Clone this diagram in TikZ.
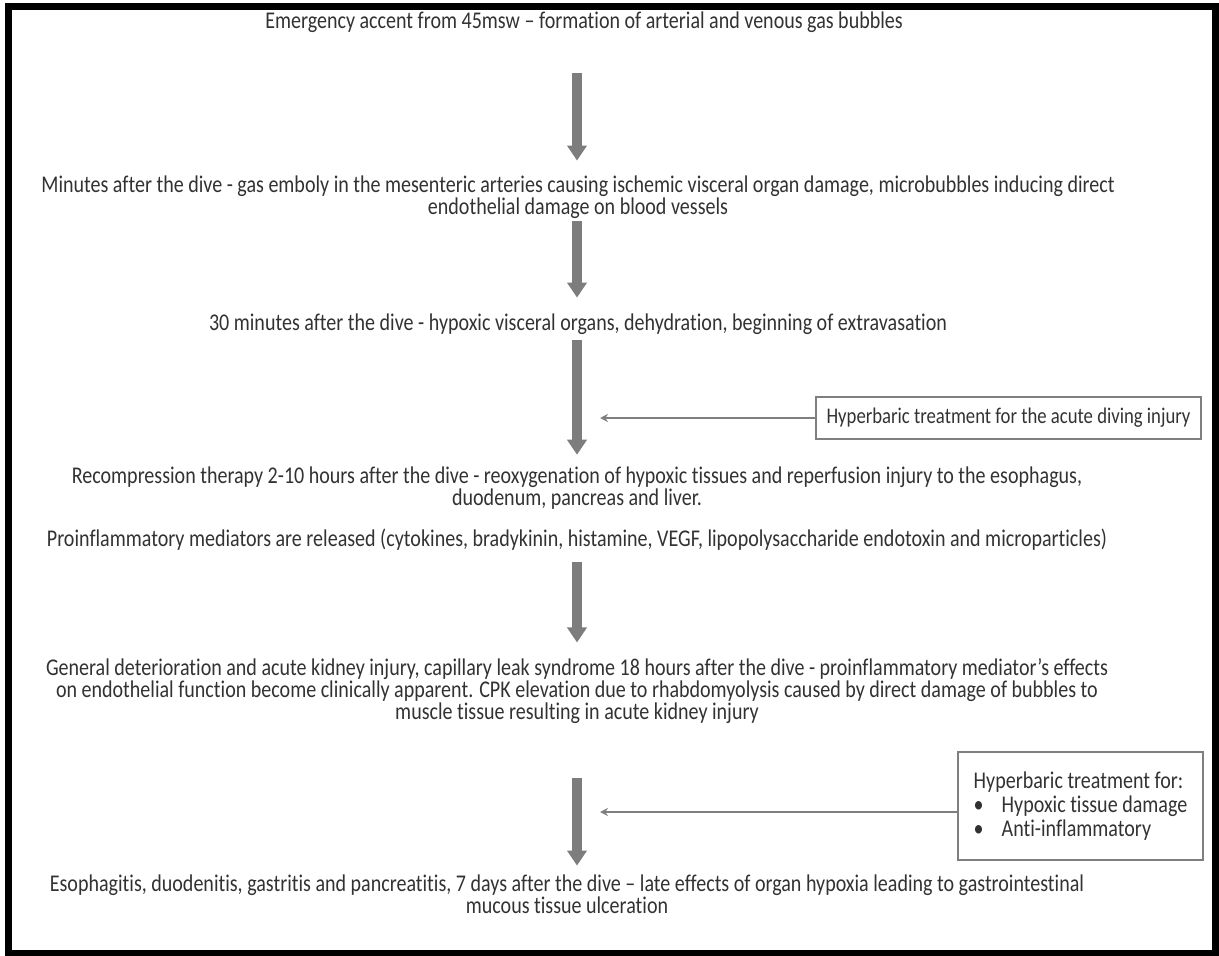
\documentclass[tikz,border=0pt]{standalone}
\usepackage{fontspec}
\setmainfont{Carlito}[FakeStretch=0.835, Ligatures=NoCommon]
\usetikzlibrary{arrows.meta,positioning}
\definecolor{textcol}{RGB}{50,50,50}
\definecolor{flowcol}{RGB}{125,125,125}
\definecolor{treatcol}{RGB}{127,127,127}

\begin{document}
\begin{tikzpicture}[
    x=0.5pt, y=-0.5pt,
    stage/.style={align=center, inner sep=0pt, text=textcol, font=\fontsize{12pt}{11pt}\selectfont},
    flow/.style={draw=flowcol, line width=5pt, -{Triangle[length=7.5pt, width=9.5pt]}},
    treat/.style={rectangle, draw=treatcol, line width=0.8pt, inner sep=0pt, text=textcol},
    feed/.style={draw=treatcol, line width=1pt, -{Stealth[length=4pt, width=4pt]}},
]
\useasboundingbox (0,0) rectangle (1219,956);
\draw[line width=3.5pt] (8.5,6.5) rectangle (1215,953.5);

\coordinate (spine) at (577,0);

% timeline
\node[stage] (t1) at (584,22) {Emergency accent from 45msw -- formation of arterial and venous gas bubbles};
\node[stage] (t2) at (578,197) {Minutes after the dive - gas emboly in the mesenteric arteries causing ischemic visceral organ damage, microbubbles inducing direct\\endothelial damage on blood vessels};
\node[stage] (t3) at (578,324) {30 minutes after the dive - hypoxic visceral organs, dehydration, beginning of extravasation};
\node[stage] (t4) at (577,488) {Recompression therapy 2-10 hours after the dive - reoxygenation of hypoxic tissues and reperfusion injury to the esophagus,\\duodenum, pancreas and liver.};
\node[stage] (t5) at (577,540) {Proinflammatory mediators are released (cytokines, bradykinin, histamine, VEGF, lipopolysaccharide endotoxin and microparticles)};
\node[stage] (t6) at (577,691) {General deterioration and acute kidney injury, capillary leak syndrome 18 hours after the dive - proinflammatory mediator’s effects\\on endothelial function become clinically apparent. CPK elevation due to rhabdomyolysis caused by direct damage of bubbles to\\muscle tissue resulting in acute kidney injury};
\node[stage] (t7) at (567,894) {Esophagitis, duodenitis, gastritis and pancreatitis, 7 days after the dive -- late effects of organ hypoxia leading to gastrointestinal\\mucous tissue ulceration};

\draw[flow, shorten <=20.1pt, shorten >=7.3pt] (t1.south -| spine) -- (t2.north -| spine);
\draw[flow, shorten <=1pt, shorten >=7.8pt] (t2.south -| spine) -- (t3.north -| spine);
\draw[flow, shorten <=2.7pt, shorten >=5.8pt] (t3.south -| spine) -- (t4.north -| spine);
\draw[flow, shorten <=5.2pt, shorten >=7.8pt] (t5.south -| spine) -- (t6.north -| spine);
\draw[flow, shorten <=27.2pt, shorten >=4.3pt] (t6.south -| spine) -- (t7.north -| spine);

% hyperbaric treatment
\node[treat, minimum width=192.5pt, minimum height=21pt, font=\fontsize{11.2pt}{11pt}\selectfont] (hb1) at (1008.5,418) {Hyperbaric treatment for the acute diving injury};
\node[treat, minimum width=122.5pt, minimum height=54pt, align=left, font=\fontsize{12pt}{12pt}\selectfont] (hb2) at (1080.5,806) {Hyperbaric treatment for:\\\makebox[14pt][l]{•}Hypoxic tissue damage\\\makebox[14pt][l]{•}Anti-inflammatory};

\draw[feed, shorten >=11.5pt] (hb1.west) -- (hb1.west -| spine);
\draw[feed, shorten >=11.5pt] ([yshift=-3pt]hb2.west) -- ([yshift=-3pt]hb2.west -| spine);
\end{tikzpicture}
\end{document}
